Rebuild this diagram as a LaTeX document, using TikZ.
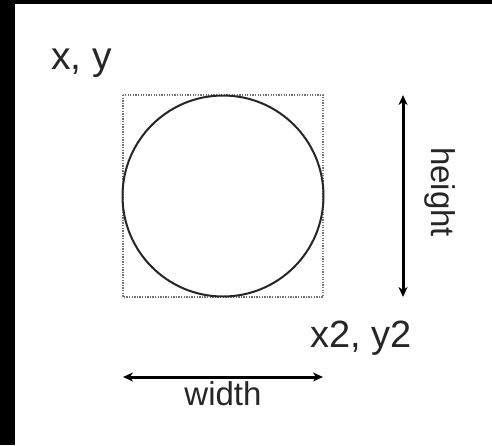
\documentclass[tikz,border=0pt]{standalone}
\usepackage{fontspec}
\setmainfont{Liberation Sans}
\usetikzlibrary{arrows.meta}
\begin{document}
\begin{tikzpicture}[x=1pt,y=-1pt,
  lbl/.style={inner sep=0pt,text=black!85},
  dim/.style={line width=3pt,{Stealth[length=10pt,width=9pt,inset=3pt]}-{Stealth[length=10pt,width=9pt,inset=3pt]}},
  bbox/.style={draw=black!55,line width=2.2pt,dash pattern=on 1.3pt off 1.3pt},
  shapeline/.style={draw=black!85,line width=2pt}]
\useasboundingbox (0,0) rectangle (492,445);
\fill[white] (0,0) rectangle (492,445);
\fill[black] (0,0) rectangle (492,4);
\fill[black] (0,0) rectangle (15,445);
% bounding rectangle and circle
\draw[bbox] (123,95) rectangle (323,297);
\node[shapeline,circle,minimum size=201pt,inner sep=0pt] (c) at (223,196) {};
% labels
\node[lbl,anchor=base west,font=\fontsize{39}{42}\selectfont] (xy) at (51,69) {x, y};
\node[lbl,anchor=base west,font=\fontsize{38}{42}\selectfont] (xy2) at (310,347) {x2, y2};
% height arrow
\coordinate (ht) at (403,95);
\coordinate (hb) at (403,297);
\draw[dim] (ht) -- (hb);
\node[lbl,rotate=-90,font=\fontsize{33}{38}\selectfont] (h) at (440,192) {height};
% width arrow
\coordinate (wl) at (123,377);
\coordinate (wr) at (323,377);
\draw[dim] (wl) -- (wr);
\node[lbl,anchor=base,font=\fontsize{33}{38}\selectfont] (w) at (223,405) {width};
\end{tikzpicture}
\end{document}
